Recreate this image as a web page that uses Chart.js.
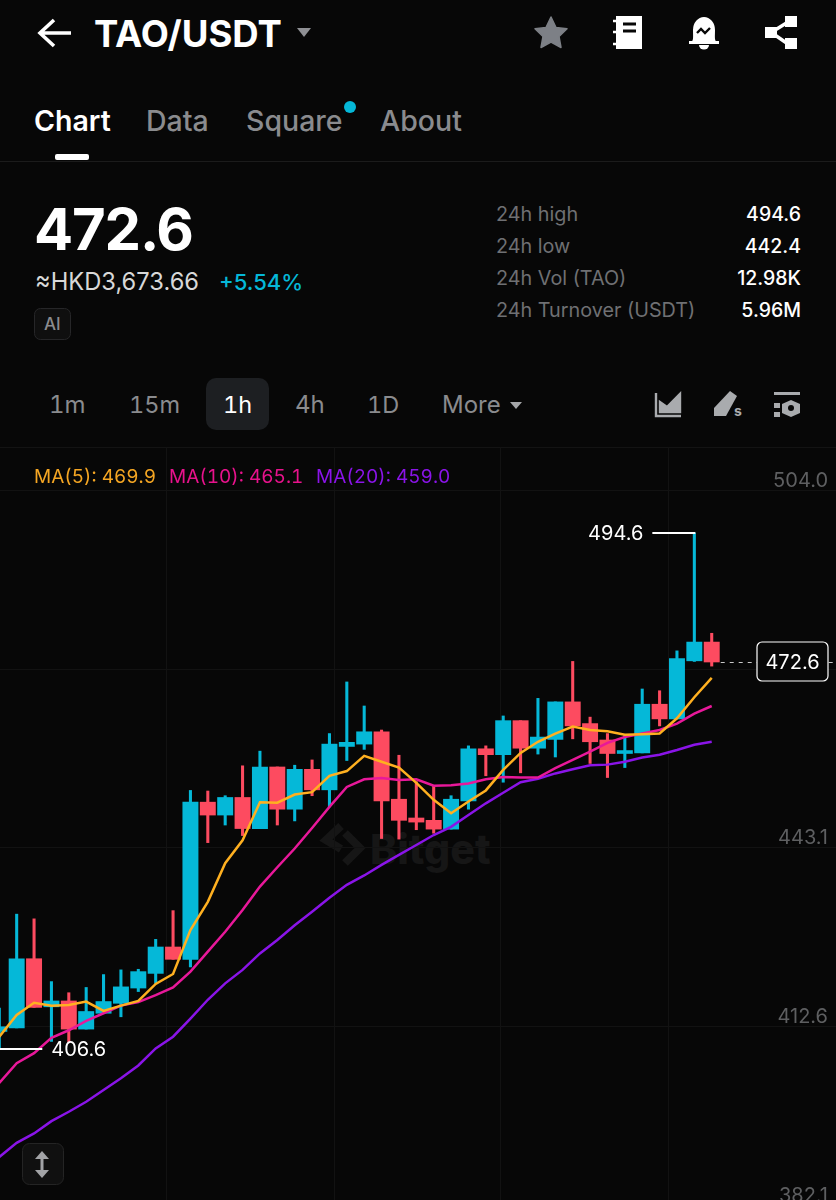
<!DOCTYPE html>
<html><head><meta charset="utf-8">
<style>
html,body{margin:0;padding:0;background:#070707;width:836px;height:1200px;overflow:hidden;font-family:Inter,Roboto,sans-serif;color:#fff}
.t{position:absolute;white-space:nowrap;line-height:1}
.g{color:#8a8b8e}
.n{font-variant-numeric:tabular-nums}
svg{position:absolute;overflow:visible}
#wrap{position:absolute;left:0;top:447px;width:836px;height:753px}
canvas{position:absolute;left:0;top:0}
</style></head><body>
<svg style="left:0;top:0" width="836" height="1200">
 <path d="M71 33H42M54 20L40 33L54 46" fill="none" stroke="#fff" stroke-width="3.600"/>
 <path d="M297 28h14l-7 9z" fill="#8f9094"/>
 <path d="M551 17l5 10.500 11 1.300-8 7.700 2 11-10-5.400-10 5.400 2-11-8-7.700 11-1.300z" fill="#7d8086" stroke="#7d8086" stroke-width="1.500" stroke-linejoin="round"/>
 <path d="M616 16h26v33h-26z" fill="#fff"/><path d="M613 21h5M613 32h5M613 44h5" stroke="#fff" stroke-width="2.500"/><path d="M623 24h13M623 31h13" stroke="#070707" stroke-width="3.200"/>
 <path d="M690 43c4-2 3-5 3-13a11 13 0 0 1 22 0c0 8-1 11 3 13z" fill="#fff"/><path d="M689 42.500h30" stroke="#fff" stroke-width="3"/><path d="M699 45h10a5 4.500 0 0 1-10 0z" fill="#fff"/><path d="M697 33l4-4 4 4 5-5" fill="none" stroke="#070707" stroke-width="2.400"/>
 <path d="M765 27h12v11h-12zM785 16h12v11h-12zM785 38h12v11h-12z" fill="#fff"/><path d="M772 32l16-10M772 33l16 11" stroke="#fff" stroke-width="3.400"/>
 <rect x="55" y="154" width="34" height="6" rx="2" fill="#fff"/>
 <path d="M0 161.500H836" stroke="#1b1b1b"/>
 <circle cx="350" cy="107" r="6" fill="#05b8d8"/>
 <rect x="34.500" y="308.500" width="36" height="31" rx="6" fill="#0f0f0f" stroke="#262628"/>
 <rect x="206" y="378" width="63" height="52" rx="10" fill="#1d1f22"/>
 <path d="M510 402h12l-6 7z" fill="#a5a6a9"/>
 <path d="M656 393v23h25M660 412v-10l7 5 13-13v18z" fill="none" stroke="#a9abae" stroke-width="2.400"/><path d="M660 412v-10l7 5 13-13v18z" fill="#a9abae"/>
 <path d="M730 391l7 5-11 20h-12v-8z" fill="#a9abae"/>
 <path d="M774 392h26v3h-26zM774 403h6v5h-6zM774 412h6v5h-6z" fill="#a9abae"/><path d="M791 400l9 4v9l-9 4-9-4v-9z" fill="#a9abae"/><circle cx="791" cy="408" r="3" fill="#070707"/>
 <path d="M0 447.500H836" stroke="#131313"/>
 <path d="M341 826l-15 14 15 9M345 833l15 15-15 15" fill="none" stroke="#161616" stroke-width="8"/>
</svg>
<div class="t" style="left:94px;top:16px;font-size:36.500px;font-weight:700">TAO/USDT</div>
<div class="t" style="left:34px;top:107px;font-size:28.500px;font-weight:600">Chart</div>
<div class="t g" style="left:146px;top:107px;font-size:28.500px;font-weight:500">Data</div>
<div class="t g" style="left:246px;top:107px;font-size:28.500px;font-weight:500">Square</div>
<div class="t g" style="left:380px;top:107px;font-size:28.500px;font-weight:500">About</div>
<div class="t" style="left:34px;top:200px;font-size:58px;font-weight:700;letter-spacing:-1.200px">472.6</div>
<div class="t" style="left:35px;top:270px;font-size:23.700px;color:#d8d8d8">≈HKD3,673.66</div>
<div class="t" style="left:219px;top:271px;font-size:22px;font-weight:500;color:#05b8d8">+5.54%</div>
<div class="t g" style="left:44px;top:316px;font-size:17px;font-weight:500">AI</div>
<div class="t" style="left:496px;top:205px;font-size:19.800px;color:#6f7073">24h high</div>
<div class="t" style="left:496px;top:237px;font-size:19.800px;color:#6f7073">24h low</div>
<div class="t" style="left:496px;top:269px;font-size:19.800px;color:#6f7073">24h Vol (TAO)</div>
<div class="t" style="left:496px;top:301px;font-size:19.800px;color:#6f7073">24h Turnover (USDT)</div>
<div class="t" style="right:35px;top:205px;font-size:19.500px;font-weight:500">494.6</div>
<div class="t" style="right:35px;top:237px;font-size:19.500px;font-weight:500">442.4</div>
<div class="t" style="right:35px;top:269px;font-size:19.500px;font-weight:500">12.98K</div>
<div class="t" style="right:35px;top:301px;font-size:19.500px;font-weight:500">5.96M</div>
<div class="t g n" style="left:49px;top:393px;font-size:24px">1m</div>
<div class="t g n" style="left:129px;top:393px;font-size:23.500px">15m</div>
<div class="t n" style="left:223px;top:393px;font-size:23.500px">1h</div>
<div class="t g n" style="left:295px;top:393px;font-size:24px">4h</div>
<div class="t g n" style="left:367px;top:393px;font-size:23.500px">1D</div>
<div class="t g" style="left:442px;top:393px;font-size:24px">More</div>
<div class="t" style="left:734px;top:404px;font-size:14px;font-weight:700;color:#a9abae">s</div>
<div class="t" style="left:370px;top:829px;font-size:41px;font-weight:800;color:#161616">Bitget</div>
<div id="wrap"><canvas id="c" width="836" height="753"></canvas></div>
<div class="t n" style="left:34px;top:467px;font-size:19px;color:#f5a623">MA(5): 469.9</div>
<div class="t n" style="left:169px;top:467px;font-size:19px;color:#e8128c">MA(10): 465.1</div>
<div class="t n" style="left:316px;top:467px;font-size:19px;color:#8a14e8">MA(20): 459.0</div>
<svg style="left:0;top:0" width="836" height="1200">
 <rect x="22.500" y="1143.500" width="41" height="41" rx="7" fill="#101010" stroke="#242424"/>
 <path d="M42 1151l-7 8h14zM42 1178l-7-8h14z" fill="#a2a3a6"/><path d="M42 1158v13" stroke="#a2a3a6" stroke-width="3"/>
</svg>
<script src="https://cdn.jsdelivr.net/npm/chart.js@4"></script>
<script>
const candleIndex=[0,1,2,3,4,5,6,7,8,9,10,11,12,13,14,15,16,17,18,19,20,21,22,23,24,25,26,27,28,29,30,31,32,33,34,35,36,37,38,39,40,41];
const opens=[409.6,410.2,422.0,413.8,414.8,410.0,412.7,414.4,417.0,419.5,424.0,421.9,448.7,446.5,449.5,444.2,454.7,447.5,454.3,450.8,458.2,458.6,460.7,449.2,446.0,445.6,444.1,448.9,457.8,456.8,462.6,457.9,459.4,465.8,462.1,459.3,457.0,457.1,465.4,462.9,472.8,476.0];
const highs=[413.6,429.6,428.8,418.1,416.2,417.1,419.3,420.1,420.2,425.3,430.2,450.7,450.6,449.8,454.9,457.4,454.7,455.0,455.9,460.4,469.2,465.1,461.0,456.7,452.2,451.5,449.8,458.3,458.3,463.4,462.6,466.4,465.8,472.7,463.2,460.4,460.1,468.0,467.7,474.5,494.6,477.5];
const lows=[406.6,410.2,413.7,407.9,407.7,410.0,412.7,412.1,416.4,417.8,421.9,420.6,441.8,444.8,443.0,444.2,444.8,445.5,449.8,447.9,455.8,457.7,442.5,442.4,444.0,443.4,444.1,447.5,453.2,452.1,453.7,456.9,456.4,459.5,455.3,452.9,454.6,457.1,461.7,462.9,472.7,471.9];
const closes=[410.4,422.0,413.7,414.8,410.0,413.0,414.7,417.2,419.8,424.0,421.9,448.7,446.5,449.5,444.2,454.7,447.5,454.3,450.8,458.6,458.9,460.7,448.9,445.6,445.3,444.1,449.2,457.8,456.8,462.6,457.9,459.8,465.8,461.7,459.0,457.0,457.5,465.4,462.9,473.2,476.0,472.6];
const ma5=[408.7,412.4,414.5,414.0,414.1,414.7,413.1,414.0,414.8,417.7,419.4,426.9,431.7,438.3,442.2,448.7,448.6,450.0,450.4,453.2,454.0,456.6,455.6,454.6,452.0,449.1,446.8,448.8,450.7,454.2,457.1,459.0,460.4,461.6,461.0,460.8,460.2,460.3,460.4,463.0,466.6,469.9];
const ma10=[400.8,404.2,405.9,408.5,409.8,411.4,412.7,414.0,414.6,415.8,417.1,419.8,423.2,426.6,430.3,434.3,437.6,440.8,444.3,447.9,451.3,452.6,452.8,452.5,452.6,451.5,451.6,451.9,452.6,453.0,452.9,452.9,454.5,455.9,457.3,458.8,459.8,460.4,461.0,462.1,463.8,465.1];
const ma20=[388.2,390.6,392.2,394.3,395.9,397.6,399.6,401.6,403.8,406.7,408.7,411.8,415.0,417.8,420.1,422.9,425.2,427.7,430.0,432.4,434.6,436.2,438.0,439.7,441.4,443.1,444.5,446.5,448.5,450.3,452.1,452.7,453.6,454.3,455.0,455.1,455.6,456.3,456.8,457.6,458.5,459.0];
const priceTicks=[504.0,443.1,412.6,382.1];
const gridPrices=[504.0,473.5,443.1,412.6,382.1];
const highLabel=494.6, lowLabel=406.6, lastPrice=472.6;
const UP='#05b8d8', DOWN='#fd4b60';
const colors=closes.map((c,i)=>c>=opens[i]?UP:DOWN);
const wicks=candleIndex.map((x,i)=>({x,y:[lows[i],highs[i]]}));
const bodies=candleIndex.map((x,i)=>({x,y:[opens[i],closes[i]]}));
const line=(a)=>candleIndex.map((x,i)=>({x,y:a[i]}));

const marks={id:'marks',afterDatasetsDraw(ch){
  const c=ch.ctx,x=ch.scales.x,y=ch.scales.y;
  c.save();c.font='20px Inter, Roboto, sans-serif';c.textBaseline='middle';c.strokeStyle='#fff';c.fillStyle='#fff';c.lineWidth=2;
  const yh=y.getPixelForValue(highLabel),xh=x.getPixelForValue(40);
  c.beginPath();c.moveTo(xh+1,yh);c.lineTo(xh-42,yh);c.stroke();
  c.textAlign='right';c.fillText(highLabel.toFixed(1),xh-51,yh+1);
  const yl=y.getPixelForValue(lowLabel),xl=x.getPixelForValue(0);
  c.beginPath();c.moveTo(xl,yl);c.lineTo(xl+43,yl);c.stroke();
  c.textAlign='left';c.fillText(lowLabel.toFixed(1),xl+52,yl+1);
  const yp=y.getPixelForValue(lastPrice),xp=x.getPixelForValue(41)+9;
  c.strokeStyle='#c8c8c8';c.lineWidth=1.200;c.setLineDash([4,5]);c.beginPath();c.moveTo(xp,yp+0.5);c.lineTo(836,yp+0.5);c.stroke();c.setLineDash([]);
  c.strokeStyle='#fff';c.fillStyle='#070707';c.beginPath();c.roundRect(757,yp-20,71,39,5);c.fill();c.lineWidth=1.200;c.stroke();
  c.fillStyle='#fff';c.textAlign='center';c.fillText(lastPrice.toFixed(1),792.500,yp+0.5);
  c.restore();
}};
const PX=17.376, X0=-0.7, Y0=533-447, PXY=5.864;
const noPad=s=>{s.paddingTop=0;s.paddingBottom=0;s.paddingLeft=0;s.paddingRight=0;};
new Chart(document.getElementById('c'),{
 data:{datasets:[
  {type:'line',data:line(ma5),borderColor:'#ffb020',borderWidth:2.500,pointRadius:0,tension:0,order:1,yAxisID:'y'},
  {type:'line',data:line(ma10),borderColor:'#e8189a',borderWidth:2.500,pointRadius:0,tension:0,order:2,yAxisID:'y'},
  {type:'line',data:line(ma20),borderColor:'#8a14e8',borderWidth:2.500,pointRadius:0,tension:0,order:3,yAxisID:'y'},
  {type:'bar',data:bodies,backgroundColor:colors,barThickness:15.300,grouped:false,order:4,yAxisID:'y'},
  {type:'bar',data:wicks,backgroundColor:colors,barThickness:2.400,grouped:false,order:5,yAxisID:'y'}
 ]},
 options:{responsive:false,animation:false,devicePixelRatio:1,
  layout:{padding:0},
  plugins:{legend:{display:false},tooltip:{enabled:false}},
  scales:{
   x:{type:'linear',display:true,offset:false,min:(0-X0)/PX,max:(836-X0)/PX,
      border:{display:false},
      grid:{color:'#121212',drawTicks:false,lineWidth:1,offset:false},
      ticks:{display:false},
      afterBuildTicks:s=>{s.ticks=[167,334,501,668].map(p=>({value:(p-X0)/PX}))},
      afterFit:s=>{s.height=0;noPad(s)}},
   y:{position:'right',display:true,min:494.6-(753-Y0)/PXY,max:494.6+Y0/PXY,
      border:{display:false},grid:{display:false,drawTicks:false},
      ticks:{display:false},
      afterBuildTicks:s=>{s.ticks=[]},
      afterFit:s=>{s.width=0;noPad(s)}},
   labelY:{position:'right',min:494.6-(753-Y0-3)/PXY,max:494.6+(Y0+3)/PXY,
      border:{display:false},grid:{display:false,drawTicks:false},
      ticks:{mirror:true,padding:-8,color:'#5e5f61',font:{size:20,family:'Inter, Roboto, sans-serif'},callback:v=>v.toFixed(1)},
      afterBuildTicks:s=>{s.ticks=priceTicks.map(v=>({value:v}))},
      afterFit:s=>{s.width=0;noPad(s)}},
   gridY:{position:'left',min:494.6-(753-Y0-13)/PXY,max:494.6+(Y0+13)/PXY,
      border:{display:false},grid:{color:'#121212',drawTicks:false},
      ticks:{display:false},
      afterBuildTicks:s=>{s.ticks=gridPrices.map(v=>({value:v}))},
      afterFit:s=>{s.width=0;noPad(s)}}
  }},
 plugins:[marks]
});
</script>
</body></html>
